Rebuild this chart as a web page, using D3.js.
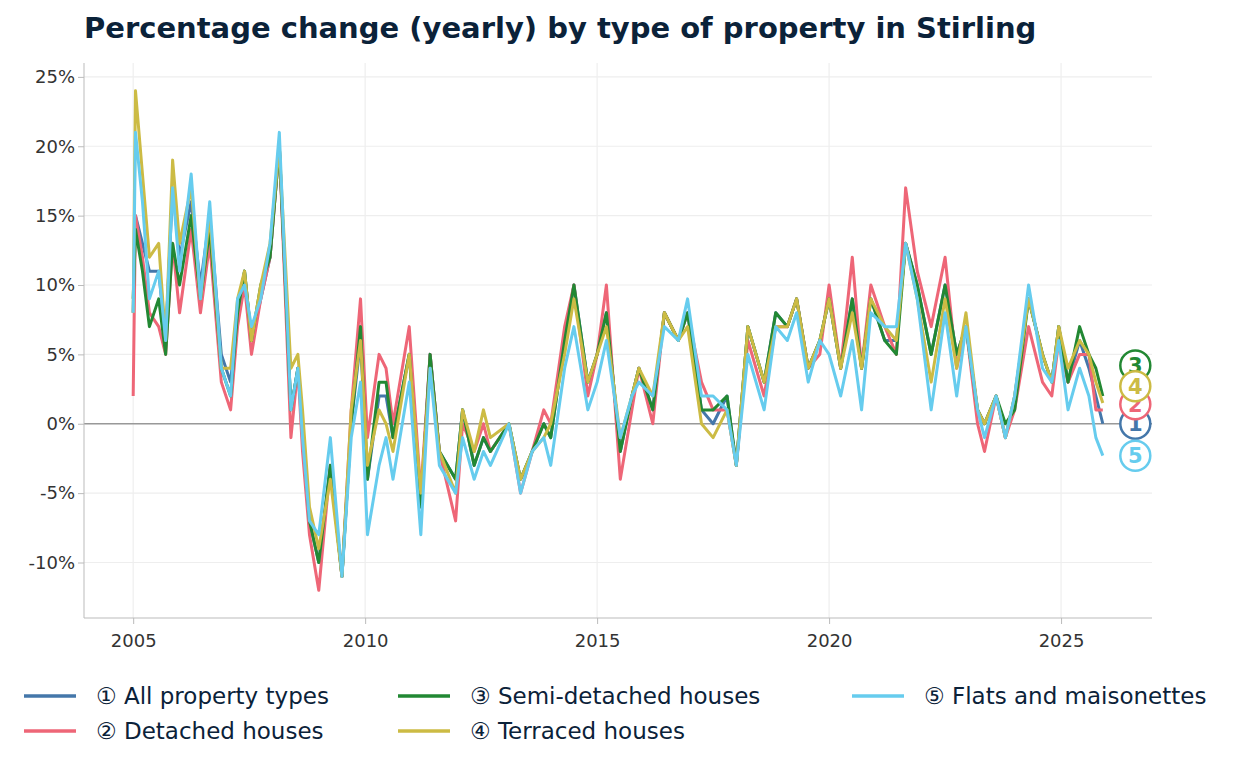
<!DOCTYPE html>
<html><head><meta charset="utf-8">
<script src="https://cdn.jsdelivr.net/npm/d3@7"></script>
<style>body{margin:0;background:#fff;font-family:"DejaVu Sans",sans-serif}</style>
</head><body><svg></svg>
<script>
let dates = [2005.0,2005.05,2005.2,2005.35,2005.55,2005.7,2005.85,2006.0,2006.25,2006.45,2006.65,2006.9,2007.1,2007.25,2007.4,2007.55,2007.75,2007.95,2008.15,2008.4,2008.55,2008.65,2008.8,2009.0,2009.25,2009.5,2009.7,2009.9,2010.05,2010.3,2010.45,2010.6,2010.95,2011.2,2011.4,2011.6,2011.95,2012.1,2012.35,2012.55,2012.7,2013.1,2013.35,2013.6,2013.85,2014.0,2014.3,2014.5,2014.8,2015.0,2015.2,2015.5,2015.75,2015.9,2016.2,2016.45,2016.75,2016.95,2017.25,2017.5,2017.8,2018.0,2018.25,2018.6,2018.85,2019.1,2019.3,2019.55,2019.8,2020.0,2020.25,2020.5,2020.7,2020.9,2021.2,2021.45,2021.65,2021.9,2022.2,2022.5,2022.75,2022.95,2023.2,2023.35,2023.6,2023.8,2024.0,2024.3,2024.6,2024.8,2024.95,2025.15,2025.4,2025.6,2025.75,2025.9]

let allTypes = [8,15,13,11,11,6,17,12,16,10,15,5,3,8,11,6,9,12,20,1,4,0,-7,-10,-3,-11,0,6,-4,2,2,-1,5,-6,5,-2,-4,1,-3,-1,-2,0,-4,-2,0,-1,6,10,3,5,8,-2,2,4,1,8,6,8,1,0,2,-3,7,3,8,7,9,4,6,9,4,9,4,9,6,6,13,10,5,10,5,7,1,0,2,-1,2,9,5,3,7,3,6,4,2,0]
let detached = [2,15,12,8,7,5,13,8,14,8,13,3,1,7,10,5,9,12,20,-1,4,-2,-8,-12,-3,-11,1,9,-1,5,4,0,7,-5,5,-2,-7,0,-2,0,-2,0,-5,-2,1,0,7,10,2,5,10,-4,1,4,0,8,6,8,3,1,1,-3,6,2,7,7,9,4,5,10,4,12,4,10,7,5,17,11,7,12,4,7,0,-2,2,-1,1,7,3,2,6,3,5,5,1,1]
let semi = [9,14,11,7,9,5,13,10,15,9,14,4,2,8,11,6,10,12,20,1,4,0,-7,-10,-3,-11,0,7,-4,3,3,-1,5,-6,5,-2,-4,1,-3,-1,-2,0,-4,-2,0,-1,6,10,3,5,8,-2,2,4,1,8,6,8,1,1,2,-3,7,3,8,7,9,4,6,9,4,9,4,9,6,5,13,10,5,10,5,7,1,0,2,0,1,9,5,3,7,3,7,5,4,2]
let terraced = [8,24,18,12,13,6,19,13,17,9,15,4,4,9,11,6,10,13,20,4,5,1,-6,-9,-4,-11,1,6,-3,1,0,-2,5,-5,4,-2,-5,1,-2,1,-1,0,-4,-2,-1,0,5,9,3,5,7,-1,2,4,2,8,6,7,0,-1,1,-3,7,3,7,7,9,4,6,9,4,8,4,9,7,6,13,9,3,9,4,8,1,0,2,-1,2,9,5,3,7,4,6,5,3,1.5]
let flats = [8,21,16,9,11,6,17,11,18,9,16,4,2,9,10,7,9,13,21,1,4,-1,-7,-8,-1,-11,-1,3,-8,-3,-1,-4,3,-8,4,-3,-5,-1,-4,-2,-3,0,-5,-2,-1,-3,4,7,1,3,6,-1,2,3,2,7,6,9,2,2,1,-3,5,1,7,6,8,3,6,5,2,6,1,8,7,7,13,9,1,8,2,7,1,-1,2,-1,2,10,4,3,6,1,4,2,-1,-2.3]

let names = ["① All property types","② Detached houses","③ Semi-detached houses","④ Terraced houses","⑤ Flats and maisonettes"]
let marks = ["1","2","3","4","5"]
let colors = ["#4477aa","#ee6677","#228833","#ccbb44","#66ccee"]
let labelPos = [0,1.4,4.2,2.7,-2.3]
let yTicks = [-10,-5,0,5,10,15,20,25]
let xTicks = [2005,2010,2015,2020,2025]

let width = 1236, height = 770
let mLeft = 84, mRight = 1152, mTop = 63, mBottom = 618
let svg = d3.select("svg").attr("width",width).attr("height",height)

let x = d3.scaleLinear().domain([2003.94,2026.96]).range([mLeft,mRight])
let y = d3.scaleLinear().domain([-14,26]).range([mBottom,mTop])

svg.append("text").attr("x",84).attr("y",38).attr("font-size",29).attr("font-weight","bold")
    .attr("fill","#0b2239").text("Percentage change (yearly) by type of property in Stirling")

// grid
svg.append("g").selectAll("line").data(yTicks).enter().append("line")
    .attr("x1",mLeft).attr("x2",mRight).attr("y1",d=>y(d)).attr("y2",d=>y(d))
    .attr("stroke","#eee").attr("stroke-width",1.2)
svg.append("g").selectAll("line").data(xTicks).enter().append("line")
    .attr("y1",mTop).attr("y2",mBottom).attr("x1",d=>x(d)).attr("x2",d=>x(d))
    .attr("stroke","#eee").attr("stroke-width",1.2)
svg.append("line").attr("x1",mLeft).attr("x2",mRight).attr("y1",y(0)).attr("y2",y(0))
    .attr("stroke","#999").attr("stroke-width",1.5)

let xAxis = d3.axisBottom(x).tickValues(xTicks).tickFormat(d3.format("d")).tickSize(6)
let gx = svg.append("g").attr("transform","translate(0,"+mBottom+")").call(xAxis)
let yAxis = d3.axisLeft(y).tickValues(yTicks).tickFormat(d=>d+"%").tickSize(6)
let gy = svg.append("g").attr("transform","translate("+mLeft+",0)").call(yAxis)
gx.select(".domain").attr("d","M"+mLeft+",0H"+mRight).attr("stroke","#bbb")
gy.select(".domain").attr("d","M0,"+mTop+"V"+mBottom).attr("stroke","#bbb")
svg.selectAll(".tick line").attr("stroke","#bbb")
svg.selectAll(".tick text").attr("font-size",18).attr("fill","#333").attr("font-family","DejaVu Sans")
gx.selectAll(".tick text").attr("dy","1.1em")

let series = [allTypes,detached,semi,terraced,flats]
let line = d3.line().x(d=>x(d[0])).y(d=>y(d[1]))
let order = [0,1,2,3,4]
order.forEach(i=>{
    svg.append("path").datum(d3.zip(dates,series[i])).attr("d",line)
        .attr("fill","none").attr("stroke",colors[i]).attr("stroke-width",3).attr("stroke-linejoin","round")
})
order.forEach(i=>{
    let g = svg.append("g").attr("transform","translate("+x(2026.6)+","+y(labelPos[i])+")")
    g.append("circle").attr("r",15).attr("fill","#fff").attr("stroke",colors[i]).attr("stroke-width",2.5)
    g.append("text").attr("text-anchor","middle").attr("dy","0.36em").attr("font-size",21)
        .attr("font-weight","bold").attr("fill",colors[i]).text(marks[i])
})

// legend
let legPos = [[24,696],[24,731],[398,696],[398,731],[852,696]]
names.forEach((n,i)=>{
    let g = svg.append("g").attr("transform","translate("+legPos[i][0]+","+legPos[i][1]+")")
    g.append("line").attr("x1",0).attr("x2",52).attr("stroke",colors[i]).attr("stroke-width",3.5)
    g.append("text").attr("x",72).attr("dy","0.35em").attr("font-size",23).attr("fill","#0b2239").text(n)
})
</script></body></html>
